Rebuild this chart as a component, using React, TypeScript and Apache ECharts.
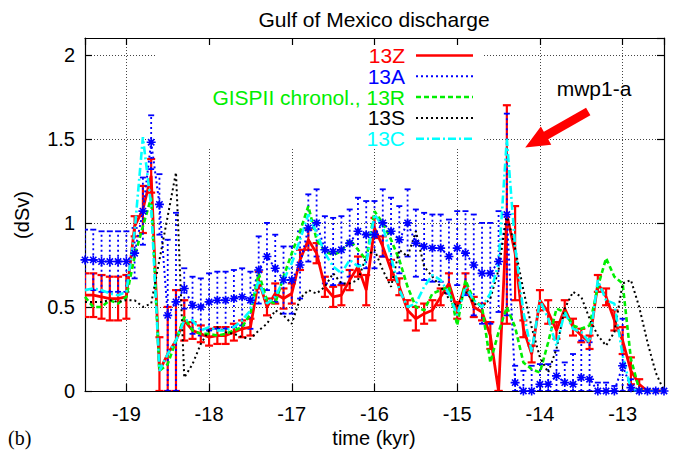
import React, { useEffect, useRef } from "react";
import * as echarts from "echarts";

// time axis (kyr)
const time = [
  -19.5, -19.4, -19.3, -19.2, -19.1, -19.0, -18.9, -18.8, -18.7, -18.6,
  -18.5, -18.4, -18.3, -18.2, -18.1, -18.0, -17.9, -17.8, -17.7, -17.6,
  -17.5, -17.4, -17.3, -17.2, -17.1, -17.0, -16.9, -16.8, -16.7, -16.6,
  -16.5, -16.4, -16.3, -16.2, -16.1, -16.0, -15.9, -15.8, -15.7, -15.6,
  -15.5, -15.4, -15.3, -15.2, -15.1, -15.0, -14.9, -14.8, -14.7, -14.6,
  -14.5, -14.4, -14.3, -14.2, -14.1, -14.0, -13.9, -13.8, -13.7, -13.6,
  -13.5, -13.4, -13.3, -13.2, -13.1, -13.0, -12.9, -12.8, -12.7, -12.6,
  -12.5,
];

// 13Z (red, with error bars)
const z13 = [
  0.57, 0.57, 0.56, 0.55, 0.55, 0.56, 0.98, 1.08, 1.28, 0.12,
  0.22, 0.30, 0.42, 0.36, 0.34, 0.32, 0.33, 0.33, 0.35, 0.37,
  0.38, 0.66, 0.50, 0.58, 0.55, 0.58, 0.78, 0.90, 0.82, 0.62,
  0.56, 0.57, 0.66, 0.74, 0.60, 0.97, 0.86, 0.72, 0.62, 0.48,
  0.43, 0.46, 0.48, 0.56, 0.64, 0.48, 0.64, 0.50, 0.47, 0.33,
  0.00, 1.05, 0.82, 0.37, 0.22, 0.54, 0.47, 0.36, 0.49, 0.38,
  0.33, 0.29, 0.64, 0.56, 0.42, 0.30, 0.12, 0.04, 0.00, 0.00,
  0.00,
];
const z13Err = [
  0.13, 0.13, 0.13, 0.13, 0.13, 0.13, 0.06, 0.14, 0.10, 0.20,
  0.28, 0.30, 0.12, 0.05, 0.05, 0.05, 0.05, 0.05, 0.05, 0.05,
  0.05, 0.05, 0.05, 0.06, 0.06, 0.06, 0.06, 0.06, 0.06, 0.06,
  0.06, 0.06, 0.06, 0.06, 0.09, 0.06, 0.06, 0.06, 0.05, 0.06,
  0.07, 0.06, 0.06, 0.05, 0.06, 0.05, 0.06, 0.06, 0.05, 0.08,
  0.00, 0.65, 0.28, 0.05, 0.05, 0.06, 0.07, 0.05, 0.05, 0.05,
  0.04, 0.04, 0.05, 0.05, 0.06, 0.08, 0.08, 0.03, 0.00, 0.00,
  0.00,
];

// 13A (blue, with error bars)
const a13 = [
  0.78, 0.78, 0.77, 0.77, 0.77, 0.77, 0.82, 1.07, 1.48, 1.11,
  0.45, 0.53, 0.61, 0.51, 0.50, 0.53, 0.54, 0.54, 0.55, 0.56,
  0.54, 0.72, 0.80, 0.73, 0.66, 0.66, 0.75, 0.97, 1.00, 0.84,
  0.83, 0.84, 0.88, 0.95, 0.93, 0.93, 1.00, 0.95, 0.90, 1.00,
  0.88, 0.86, 0.85, 0.85, 0.80, 0.85, 0.82, 0.75, 0.70, 0.70,
  0.77, 1.05, 0.05, 0.00, 0.00, 0.04, 0.04, 0.09, 0.05, 0.04,
  0.08, 0.07, 0.00, 0.00, 0.00, 0.15, 0.02, 0.00, 0.00, 0.00,
  0.00,
];
const a13Err = [
  0.18, 0.18, 0.18, 0.18, 0.18, 0.18, 0.15, 0.20, 0.16, 0.18,
  0.45, 0.53, 0.12, 0.17, 0.17, 0.17, 0.17, 0.17, 0.17, 0.17,
  0.17, 0.20, 0.20, 0.20, 0.20, 0.20, 0.20, 0.20, 0.20, 0.20,
  0.20, 0.20, 0.20, 0.20, 0.20, 0.20, 0.20, 0.20, 0.20, 0.20,
  0.20, 0.20, 0.20, 0.20, 0.22, 0.22, 0.25, 0.30, 0.30, 0.30,
  0.30, 0.60, 0.10, 0.12, 0.15, 0.12, 0.12, 0.15, 0.12, 0.18,
  0.22, 0.22, 0.05, 0.05, 0.03, 0.28, 0.05, 0.01, 0.01, 0.01,
  0.01,
];

// GISPII chronol., 13R (green)
const r13 = [
  0.56, 0.50, 0.50, 0.54, 0.52, 0.56, 0.80, 0.98, 1.15, 0.12,
  0.16, 0.30, 0.44, 0.36, 0.34, 0.34, 0.33, 0.34, 0.36, 0.38,
  0.46, 0.70, 0.54, 0.52, 0.68, 0.82, 0.95, 1.10, 0.90, 0.83,
  0.81, 0.83, 0.90, 0.84, 0.78, 1.07, 1.00, 0.90, 0.78, 0.62,
  0.50, 0.48, 0.58, 0.60, 0.62, 0.39, 0.66, 0.54, 0.50, 0.17,
  0.35, 0.50, 0.38, 0.17, 0.13, 0.11, 0.29, 0.49, 0.47, 0.39,
  0.37, 0.39, 0.62, 0.79, 0.68, 0.64, 0.19, 0.01, 0.00, 0.00,
  0.00,
];

// 13S (black)
const s13 = [
  0.53, 0.53, 0.53, 0.54, 0.53, 0.54, 0.54, 0.50, 0.52, 0.78,
  1.04, 1.30, 0.08, 0.16, 0.28, 0.36, 0.38, 0.35, 0.34, 0.32,
  0.31, 0.36, 0.40, 0.48, 0.45, 0.40, 0.55, 0.60, 0.58, 0.62,
  0.70, 0.64, 0.64, 0.66, 0.80, 0.84, 0.72, 0.62, 0.84, 0.80,
  0.95, 0.74, 0.68, 0.62, 0.55, 0.50, 0.60, 0.52, 0.50, 0.55,
  0.72, 1.05, 0.85, 0.60, 0.38, 0.20, 0.11, 0.25, 0.49, 0.59,
  0.56, 0.43, 0.33, 0.27, 0.35, 0.64, 0.66, 0.50, 0.29, 0.11,
  0.00,
];

// 13C (cyan)
const c13 = [
  0.60, 0.61, 0.60, 0.58, 0.57, 0.59, 0.95, 1.51, 1.10, 0.12,
  0.22, 0.30, 0.42, 0.42, 0.36, 0.38, 0.36, 0.36, 0.38, 0.42,
  0.48, 0.66, 0.52, 0.56, 0.66, 0.76, 0.90, 1.05, 0.94, 0.82,
  0.74, 0.70, 0.78, 0.74, 0.76, 1.05, 0.98, 0.80, 0.60, 0.50,
  0.52, 0.62, 0.69, 0.66, 0.58, 0.45, 0.62, 0.54, 0.50, 0.58,
  0.76, 1.50, 0.86, 0.47, 0.23, 0.54, 0.43, 0.27, 0.47, 0.37,
  0.35, 0.29, 0.66, 0.54, 0.52, 0.21, 0.01, 0.00, 0.00, 0.00,
  0.00,
];

const legendNames = ["13Z", "13A", "GISPII chronol., 13R", "13S", "13C"];

// annotation arrow (data coordinates): tail -> tip
const arrowTail = [-13.416, 1.663];
const arrowTip = [-14.178, 1.449];
const annotationLabel = "mwp1-a";

const RED = "#ff0000";
const BLUE = "#0000ff";
const GREEN = "#00ee00";
const BLACK = "#000000";
const CYAN = "#00ffff";
const FONT = "'Liberation Sans', Arial, Helvetica, sans-serif";

const ASTERISK = "path://M0,5L10,5M5,0L5,10M1.5,1.5L8.5,8.5M8.5,1.5L1.5,8.5";

function pairs(vals: number[]) {
  return time.map((t, i) => [t, vals[i]]);
}

function errSeries(vals: number[], errs: number[], color: string, lw: number, dash: number[] | null, cap: number) {
  return {
    type: "custom",
    silent: true,
    clip: true,
    xAxisIndex: 0,
    yAxisIndex: 0,
    data: time.map((t, i) => [t, Math.max(0, vals[i] - errs[i]), vals[i] + errs[i]]),
    encode: { x: 0, y: [1, 2] },
    renderItem: (params: any, api: any) => {
      const x = api.value(0);
      const a = api.coord([x, api.value(1)]);
      const b = api.coord([x, api.value(2)]);
      const barStyle: any = { stroke: color, lineWidth: lw, fill: null };
      if (dash) barStyle.lineDash = dash;
      const capStyle: any = { stroke: color, lineWidth: lw, fill: null };
      return {
        type: "group",
        children: [
          { type: "line", shape: { x1: a[0], y1: a[1], x2: b[0], y2: b[1] }, style: barStyle },
          { type: "line", shape: { x1: a[0] - cap, y1: a[1], x2: a[0] + cap, y2: a[1] }, style: capStyle },
          { type: "line", shape: { x1: b[0] - cap, y1: b[1], x2: b[0] + cap, y2: b[1] }, style: capStyle },
        ],
      };
    },
  };
}

export default function App() {
  const ref = useRef<HTMLDivElement>(null);

  useEffect(() => {
    if (!ref.current) return;
    const chart = echarts.init(ref.current, null, { renderer: "svg" });

    const axisLine = { show: true, onZero: false, lineStyle: { color: "#000", width: 1.2 } };
    const axisTick = { show: true, inside: true, length: 7, lineStyle: { color: "#000", width: 1.2 } };
    const gridLine = { show: true, lineStyle: { color: "#444", width: 1, type: [1, 2] } };

    const legendColors = [RED, BLUE, GREEN, BLACK, CYAN];
    const legendDash: (number[] | null)[] = [null, [2, 3], [5, 3], [2, 3], [8, 3, 2, 3]];
    const legendWidth = [2.5, 2, 2.5, 2, 2.5];
    const legendGraphics: any[] = [];
    legendNames.forEach((n, k) => {
      const y = 55.5 + k * 20.8;
      legendGraphics.push({
        type: "text",
        x: 405,
        y,
        z: 10,
        style: { text: n, fill: legendColors[k], fontSize: 21, fontFamily: FONT, align: "right", verticalAlign: "middle" },
      });
      const st: any = { stroke: legendColors[k], lineWidth: legendWidth[k] };
      if (legendDash[k]) st.lineDash = legendDash[k];
      legendGraphics.push({ type: "line", z: 10, shape: { x1: 416, y1: y, x2: 473, y2: y }, style: st });
    });

    const option: any = {
      animation: false,
      backgroundColor: "#fff",
      grid: { left: 85, right: 9, top: 38, bottom: 61, containLabel: false },
      xAxis: [
        {
          type: "value",
          min: -19.5,
          max: -12.5,
          splitNumber: 7,
          position: "bottom",
          axisLine,
          axisTick,
          axisLabel: { show: true, showMinLabel: false, showMaxLabel: false, margin: 13, fontSize: 20, color: "#000", fontFamily: FONT },
          splitLine: gridLine,
        },
        {
          type: "value",
          min: -19.5,
          max: -12.5,
          splitNumber: 7,
          position: "top",
          axisLine,
          axisTick,
          axisLabel: { show: false },
          splitLine: { show: false },
        },
      ],
      yAxis: [
        {
          type: "value",
          min: 0,
          max: 2.1,
          interval: 0.5,
          position: "left",
          axisLine,
          axisTick,
          axisLabel: { show: true, showMaxLabel: false, margin: 10, fontSize: 20, color: "#000", fontFamily: FONT },
          splitLine: gridLine,
        },
        {
          type: "value",
          min: 0,
          max: 2.1,
          interval: 0.5,
          position: "right",
          axisLine,
          axisTick,
          axisLabel: { show: false },
          splitLine: { show: false },
        },
      ],
      graphic: [
        { type: "rect", z: 1, shape: { x: 155, y: 45, width: 329, height: 104 }, style: { fill: "#fff" } },
        ...legendGraphics,
        {
          type: "text",
          x: 374,
          y: 19.5,
          style: { text: "Gulf of Mexico discharge", fill: "#000", fontSize: 21, fontFamily: FONT, align: "center", verticalAlign: "middle" },
        },
        {
          type: "text",
          x: 22,
          y: 215,
          rotation: Math.PI / 2,
          style: { text: "(dSv)", fill: "#000", fontSize: 20, fontFamily: FONT, align: "center", verticalAlign: "middle" },
        },
        {
          type: "text",
          x: 374,
          y: 438,
          style: { text: "time (kyr)", fill: "#000", fontSize: 20, fontFamily: FONT, align: "center", verticalAlign: "middle" },
        },
        {
          type: "text",
          x: 8,
          y: 438,
          style: { text: "(b)", fill: "#000", fontSize: 20, fontFamily: "'Liberation Serif', 'Times New Roman', serif", align: "left", verticalAlign: "middle" },
        },
        {
          type: "text",
          x: 594,
          y: 88,
          z: 10,
          style: { text: annotationLabel, fill: "#000", fontSize: 21, fontFamily: FONT, align: "center", verticalAlign: "middle" },
        },
      ],
      series: [
        errSeries(z13, z13Err, RED, 2.2, null, 4),
        {
          type: "line",
          name: "13Z",
          data: pairs(z13),
          symbol: "none",
          showSymbol: false,
          silent: true,
          lineStyle: { color: RED, width: 2.8, type: "solid" },
          itemStyle: { color: RED },
        },
        errSeries(a13, a13Err, BLUE, 1.8, [2, 3], 3),
        {
          type: "line",
          name: "13A",
          data: pairs(a13),
          symbol: ASTERISK,
          symbolSize: 9,
          showSymbol: true,
          showAllSymbol: true,
          silent: true,
          lineStyle: { color: BLUE, width: 2, type: [2, 3] },
          itemStyle: { color: BLUE, borderColor: BLUE, borderWidth: 1.6 },
        },
        {
          type: "line",
          name: "GISPII chronol., 13R",
          data: pairs(r13),
          symbol: "none",
          showSymbol: false,
          silent: true,
          lineStyle: { color: GREEN, width: 2.6, type: [5, 3] },
          itemStyle: { color: GREEN },
        },
        {
          type: "line",
          name: "13S",
          data: pairs(s13),
          symbol: "none",
          showSymbol: false,
          silent: true,
          lineStyle: { color: BLACK, width: 2, type: [2, 3] },
          itemStyle: { color: BLACK },
        },
        {
          type: "line",
          name: "13C",
          data: pairs(c13),
          symbol: "none",
          showSymbol: false,
          silent: true,
          lineStyle: { color: CYAN, width: 2.6, type: [8, 3, 2, 3] },
          itemStyle: { color: CYAN },
        },
        {
          type: "custom",
          silent: true,
          clip: false,
          z: 5,
          data: [[arrowTail[0], arrowTail[1], arrowTip[0], arrowTip[1]]],
          encode: { x: [0, 2], y: [1, 3] },
          renderItem: (params: any, api: any) => {
            const t = api.coord([api.value(0), api.value(1)]);
            const h = api.coord([api.value(2), api.value(3)]);
            const dx = h[0] - t[0];
            const dy = h[1] - t[1];
            const L = Math.hypot(dx, dy) || 1;
            const ux = dx / L;
            const uy = dy / L;
            const nx = -uy;
            const ny = ux;
            const sw = 4.4;
            const hw = 10.5;
            const hl = 24;
            const bx = h[0] - ux * hl;
            const by = h[1] - uy * hl;
            const pts = [
              [t[0] + nx * sw, t[1] + ny * sw],
              [bx + nx * sw, by + ny * sw],
              [bx + nx * hw, by + ny * hw],
              [h[0], h[1]],
              [bx - nx * hw, by - ny * hw],
              [bx - nx * sw, by - ny * sw],
              [t[0] - nx * sw, t[1] - ny * sw],
            ];
            return { type: "polygon", shape: { points: pts }, style: { fill: RED } };
          },
        },
      ],
    };

    chart.setOption(option);
    return () => chart.dispose();
  }, []);

  return (
    <div
      ref={ref}
      style={{ position: "fixed", left: 0, top: 0, width: 673, height: 452, background: "#fff" }}
    />
  );
}
